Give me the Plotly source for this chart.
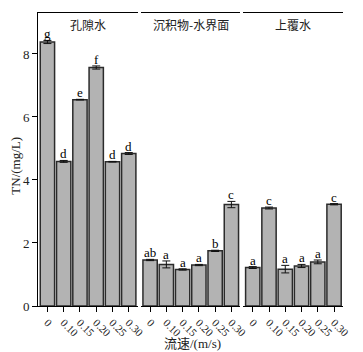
import plotly.graph_objects as go

categories = ["0", "0.10", "0.15", "0.20", "0.25", "0.30"]
panel_titles = ["孔隙水", "沉积物-水界面", "上覆水"]

pore_vals = [8.38, 4.59, 6.55, 7.57, 4.58, 4.84]
pore_err = [0.05, 0.03, 0.01, 0.05, 0.01, 0.03]
pore_letters = ["g", "d", "e", "f", "d", "d"]

swi_vals = [1.46, 1.32, 1.16, 1.30, 1.75, 3.22]
swi_err = [0.02, 0.11, 0.02, 0.02, 0.02, 0.10]
swi_letters = ["ab", "a", "a", "a", "b", "c"]

over_vals = [1.22, 3.11, 1.17, 1.27, 1.40, 3.23]
over_err = [0.03, 0.03, 0.12, 0.05, 0.06, 0.02]
over_letters = ["a", "c", "a", "a", "a", "c"]

y_ticks = [0, 2, 4, 6, 8]

series = [(pore_vals, pore_err, pore_letters),
          (swi_vals, swi_err, swi_letters),
          (over_vals, over_err, over_letters)]

W, H = 363, 352
ml, mr, mt, mb = 38, 16, 12, 46
pw = W - ml - mr
ph = H - mt - mb
domains = [[0, 101 / pw], [104 / pw, 205 / pw], [208 / pw, 1.0]]

serif = "Liberation Serif, Times New Roman, serif"
cjk = "Noto Sans CJK SC"

fig = go.Figure()
for i, (vals, errs, letters) in enumerate(series):
    xa = "x" if i == 0 else f"x{i+1}"
    fig.add_trace(go.Bar(
        x=categories, y=vals, xaxis=xa, yaxis="y",
        width=0.88,
        marker=dict(color="#b3b3b3", line=dict(color="#2b2b2b", width=1.5)),
        error_y=dict(type="data", array=errs, visible=True, color="#111111",
                     thickness=1, width=4),
        showlegend=False,
    ))
    for j, (v, e, t) in enumerate(zip(vals, errs, letters)):
        fig.add_annotation(x=j, y=v + e, xref=xa, yref="y", text=t,
                           showarrow=False, xanchor="center",
                           yanchor="bottom", yshift=-3,
                           font=dict(family=serif, size=13, color="#000"))
    fig.add_annotation(xref=f"{xa} domain", yref="paper", x=0.5, y=1,
                       text=panel_titles[i], showarrow=False,
                       xanchor="center", yanchor="top", yshift=-1,
                       font=dict(family=cjk, size=12, color="#222"))

axis_common = dict(
    type="category", categoryorder="array", categoryarray=categories,
    range=[-0.58, 5.55], showline=True, linecolor="black", linewidth=1,
    mirror=True, ticks="outside", ticklen=5, tickcolor="black",
    tickangle=45, tickfont=dict(family=serif, size=11, color="#222"),
    showgrid=False, zeroline=False,
)
layout = dict(
    width=W, height=H,
    margin=dict(l=ml, r=mr, t=mt, b=mb, pad=0),
    paper_bgcolor="white", plot_bgcolor="white",
    bargap=0.1,
    yaxis=dict(range=[0, 9.3], tickvals=y_ticks, showline=True,
               linecolor="black", linewidth=1, ticks="outside", ticklen=5,
               tickcolor="black", showgrid=False, zeroline=False,
               tickfont=dict(family=serif, size=13, color="#222")),
)
for i in range(3):
    key = "xaxis" if i == 0 else f"xaxis{i+1}"
    d = dict(axis_common)
    d["domain"] = domains[i]
    d["anchor"] = "y"
    layout[key] = d
fig.update_layout(**layout)

fig.add_annotation(xref="paper", yref="paper", x=(15 - ml) / pw, y=0.48,
                   xanchor="center", yanchor="middle",
                   text="TN/(mg/L)", textangle=-90, showarrow=False,
                   font=dict(family=serif, size=13, color="#222"))
fig.add_annotation(xref="paper", yref="paper", x=(195 - ml) / pw,
                   y=-(344 - (H - mb)) / ph,
                   xanchor="center", yanchor="middle",
                   text="流速/(m/s)", showarrow=False,
                   font=dict(family=serif + ", " + cjk, size=13, color="#222"))

fig.write_html("out.html")
